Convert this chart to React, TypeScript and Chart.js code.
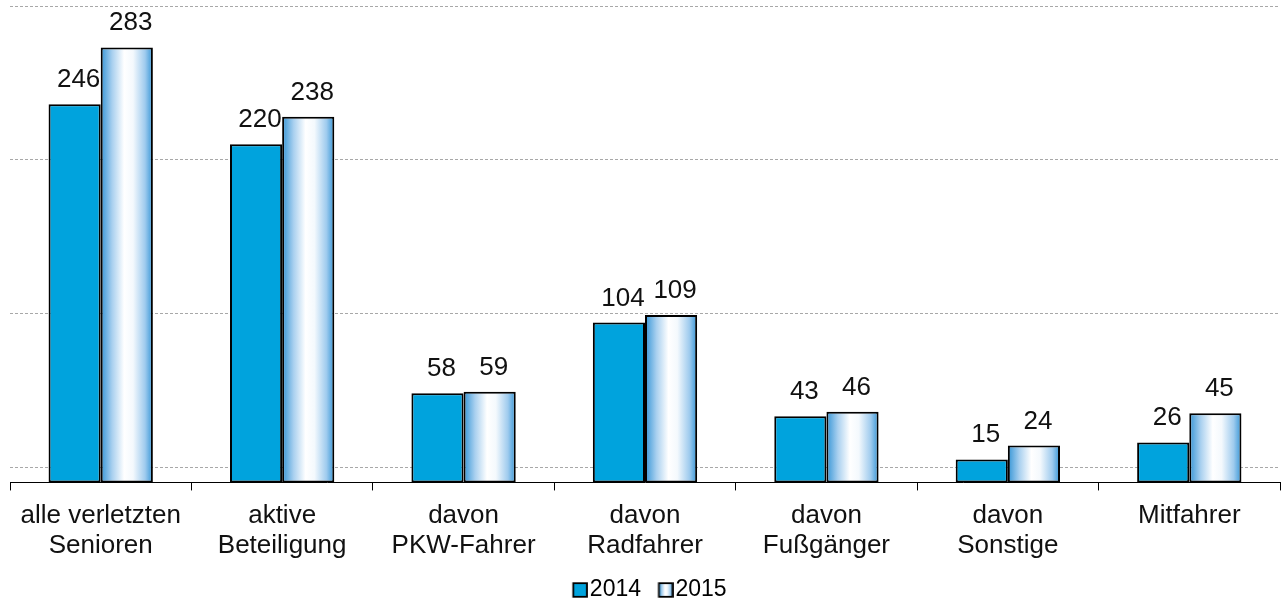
import React, { useEffect, useRef } from "react";
import { Chart, registerables } from "chart.js";

Chart.register(...registerables);

const categories: string[][] = [
  ["alle verletzten", "Senioren"],
  ["aktive", "Beteiligung"],
  ["davon", "PKW-Fahrer"],
  ["davon", "Radfahrer"],
  ["davon", "Fußgänger"],
  ["davon", "Sonstige"],
  ["Mitfahrer"],
];
const values2014: number[] = [246, 220, 58, 104, 43, 15, 26];
const values2015: number[] = [283, 238, 59, 109, 46, 24, 45];
const seriesLabels: string[] = ["2014", "2015"];
const gridValues: number[] = [10, 110, 210, 310];

const BLUE = "#00a3dd";
const FONT = "'Liberation Sans', Arial, sans-serif";

function makeGradient(ctx: CanvasRenderingContext2D, x0: number, x1: number) {
  const g = ctx.createLinearGradient(x0, 0, x1, 0);
  g.addColorStop(0, "#3595d6");
  g.addColorStop(0.22, "#a9d0ef");
  g.addColorStop(0.45, "#ffffff");
  g.addColorStop(0.62, "#f4f9fd");
  g.addColorStop(0.85, "#9fcbee");
  g.addColorStop(1, "#3595d6");
  return g;
}

function legendImage(gradient: boolean): HTMLCanvasElement {
  const c = document.createElement("canvas");
  c.width = 34;
  c.height = 16;
  const ctx = c.getContext("2d")!;
  const bx = 19.4, by = 1.2, bw = 13.6, bh = 13.6;
  ctx.fillStyle = gradient ? makeGradient(ctx, bx, bx + bw) : BLUE;
  ctx.fillRect(bx, by, bw, bh);
  ctx.strokeStyle = "#000";
  ctx.lineWidth = 1.8;
  ctx.strokeRect(bx, by, bw, bh);
  return c;
}

const gradientPlugin = {
  id: "gradientBars",
  beforeDatasetsDraw(chart: any) {
    const meta = chart.getDatasetMeta(1);
    const ctx = chart.ctx;
    meta.data.forEach((el: any) => {
      const { x, width } = el.getProps(["x", "width"], true);
      el.options.backgroundColor = makeGradient(ctx, x - width / 2, x + width / 2);
    });
  },
};

const labelPlugin = {
  id: "valueLabels",
  afterDatasetsDraw(chart: any) {
    const ctx = chart.ctx;
    ctx.save();
    ctx.font = `26px ${FONT}`;
    ctx.fillStyle = "#111";
    ctx.textAlign = "center";
    ctx.textBaseline = "alphabetic";
    chart.data.datasets.forEach((ds: any, di: number) => {
      const meta = chart.getDatasetMeta(di);
      meta.data.forEach((el: any, i: number) => {
        const { x, y } = el.getProps(["x", "y"], true);
        ctx.fillText(String(ds.data[i]), x + 4, y - 17);
      });
    });
    ctx.restore();
  },
};

export default function App() {
  const ref = useRef<HTMLCanvasElement>(null);
  useEffect(() => {
    const imgs = [legendImage(false), legendImage(true)];
    const chart = new Chart(ref.current!, {
      type: "bar",
      data: {
        labels: categories,
        datasets: [
          {
            label: seriesLabels[0],
            data: values2014,
            backgroundColor: BLUE,
            borderColor: "#000",
            borderWidth: 2,
            borderSkipped: false,
          },
          {
            label: seriesLabels[1],
            data: values2015,
            backgroundColor: () => "#ffffff",
            borderColor: "#000",
            borderWidth: 2,
            borderSkipped: false,
          },
        ],
      },
      options: {
        animation: false,
        responsive: false,
        maintainAspectRatio: false,
        datasets: { bar: { categoryPercentage: 0.575, barPercentage: 1.0 } },
        layout: { padding: { top: 6, left: 10, right: 4, bottom: 3.5 } },
        scales: {
          x: {
            offset: true,
            border: { display: true, color: "#000", width: 1 },
            grid: {
              display: true,
              offset: true,
              drawOnChartArea: false,
              drawTicks: true,
              tickLength: 8,
              color: "#000",
              lineWidth: 1,
            },
            ticks: {
              color: "#111",
              padding: 10,
              maxRotation: 0,
              autoSkip: false,
              font: { family: FONT, size: 26, lineHeight: 1.155 },
            },
          },
          y: {
            min: 0,
            max: 310,
            border: { display: false, dash: [3, 2] },
            grid: {
              color: "#a8a8a8",
              lineWidth: 1,
              drawTicks: false,
            },
            ticks: { display: false },
            afterBuildTicks: (axis: any) => {
              axis.ticks = gridValues.map((v) => ({ value: v }));
            },
          },
        },
        plugins: {
          tooltip: { enabled: false },
          legend: {
            position: "bottom",
            labels: {
              usePointStyle: true,
              pointStyleWidth: 15,
              padding: 8,
              color: "#111",
              font: { family: FONT, size: 23 },
              generateLabels: () =>
                seriesLabels.map((t, i) => ({
                  text: t,
                  pointStyle: imgs[i],
                  fillStyle: "#fff",
                  strokeStyle: "#000",
                  lineWidth: 0,
                  hidden: false,
                  datasetIndex: i,
                })),
            },
          },
        },
      },
      plugins: [gradientPlugin, labelPlugin],
    } as any);
    return () => chart.destroy();
  }, []);
  return (
    <div style={{ position: "fixed", left: 0, top: 0, width: 1284, height: 615, background: "#fff" }}>
      <canvas ref={ref} width={1284} height={615} style={{ width: 1284, height: 615 }} />
    </div>
  );
}
